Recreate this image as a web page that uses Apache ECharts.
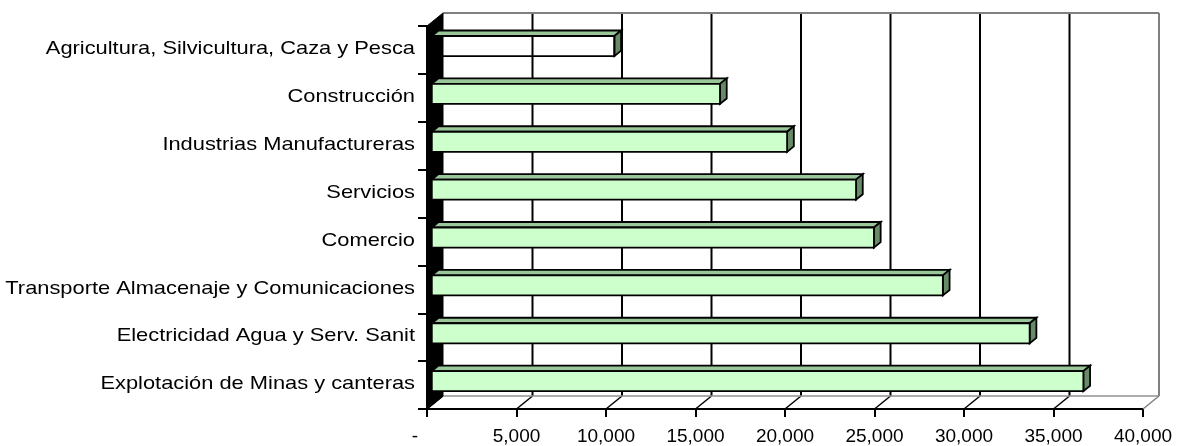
<!DOCTYPE html>
<html>
<head>
<meta charset="utf-8">
<script src="https://cdn.jsdelivr.net/npm/echarts@6/dist/echarts.min.js"></script>
<style>
  html, body { margin: 0; padding: 0; background: #ffffff; }
  #chart { width: 1178px; height: 446px; }
</style>
</head>
<body>
<div id="chart"></div>
<script>
// Sectors, listed from top to bottom
const categories = [
  'Agricultura, Silvicultura, Caza y Pesca',
  'Construcción',
  'Industrias Manufactureras',
  'Servicios',
  'Comercio',
  'Transporte Almacenaje y Comunicaciones',
  'Electricidad Agua y Serv. Sanit',
  'Explotación de Minas y canteras'
];
const values = [10200, 16100, 19850, 23700, 24700, 28550, 33400, 36400];
const tickValues = [0, 5000, 10000, 15000, 20000, 25000, 30000, 35000, 40000];
const tickLabels = ['-', '5,000', '10,000', '15,000', '20,000', '25,000', '30,000', '35,000', '40,000'];

// Oblique depth of the plot box (back wall offset from the front plane)
const DX = 16, DY = -13;
// Bars sit between these depth fractions
const F0 = 0.3, F1 = 0.72;
const BAR_RATIO = 0.42;
const FONT = 'Liberation Sans, Arial, sans-serif';
const TEXT_STRETCH = 1.15;
const hollowCategory = 0;

const chart = echarts.init(document.getElementById('chart'), null, { renderer: 'canvas' });

function line(x1, y1, x2, y2, color, w) {
  return { type: 'line', shape: { x1, y1, x2, y2 }, style: { stroke: color, lineWidth: w }, silent: true };
}

function renderFrame(params, api) {
  const h = api.size([0, 1])[1];
  const top = api.coord([0, 0])[1] - h / 2;
  const bottom = api.coord([0, categories.length - 1])[1] + h / 2;
  const x0 = api.coord([0, 0])[0];
  const xMax = api.coord([tickValues[tickValues.length - 1], 0])[0];
  const children = [];
  // back wall
  children.push({
    type: 'polygon',
    shape: { points: [[x0 + DX, top + DY], [xMax + DX, top + DY], [xMax + DX, bottom + DY], [x0 + DX, bottom + DY]] },
    style: { fill: '#ffffff' }, silent: true
  });
  // gridlines on the back wall and their floor traces
  tickValues.forEach(function (v, i) {
    if (i === 0 || i === tickValues.length - 1) return;
    const x = api.coord([v, 0])[0];
    children.push(line(x + DX, top + DY, x + DX, bottom + DY, '#000', 2));
    children.push(line(x, bottom, x + DX, bottom + DY, '#000', 1.5));
  });
  // floor diagonal at the origin
  children.push(line(x0, bottom, x0 + DX, bottom + DY, '#000', 1.5));
  // grey outline of the box
  children.push(line(x0 + DX, top + DY, xMax + DX, top + DY, '#808080', 2));
  children.push(line(xMax + DX, top + DY, xMax + DX, bottom + DY, '#808080', 2));
  children.push(line(x0 + DX, bottom + DY, xMax + DX, bottom + DY, '#909090', 1.5));
  children.push(line(xMax, bottom, xMax + DX, bottom + DY, '#808080', 1.5));
  // left side wall
  children.push({
    type: 'polygon',
    shape: { points: [[x0, top], [x0 + DX, top + DY], [x0 + DX, bottom + DY], [x0, bottom]] },
    style: { fill: '#000000', stroke: '#000000', lineWidth: 1 }, silent: true
  });
  return { type: 'group', children };
}

function renderBar(params, api) {
  const idx = api.value(0);
  const v = api.value(1);
  const c = api.coord([0, idx]);
  const e = api.coord([v, idx]);
  const h = api.size([0, 1])[1];
  const bh = h * BAR_RATIO;
  const fx = F0 * DX, fy = F0 * DY;
  const bx = (F1 - F0) * DX, by = (F1 - F0) * DY;
  const xl = c[0] + fx, xr = e[0] + fx;
  const yt = c[1] + fy - bh / 2, yb = yt + bh;
  const edge = { stroke: '#000000', lineWidth: 1.8, lineJoin: 'miter' };
  const children = [
    {
      type: 'polygon',
      shape: { points: [[xl, yt], [xr, yt], [xr + bx, yt + by], [xl + bx, yt + by]] },
      style: Object.assign({ fill: '#99C799' }, edge)
    },
    {
      type: 'polygon',
      shape: { points: [[xr, yt], [xr + bx, yt + by], [xr + bx, yb + by], [xr, yb]] },
      style: Object.assign({ fill: '#678A67' }, edge)
    },
    {
      type: 'rect',
      shape: { x: xl, y: yt, width: xr - xl, height: bh },
      style: Object.assign({ fill: idx === hollowCategory ? 'rgba(0,0,0,0)' : '#CCFFCC' }, edge)
    },
    {
      type: 'text',
      x: c[0] - 12,
      y: c[1] - 1,
      scaleX: TEXT_STRETCH,
      style: {
        text: categories[idx], x: 0, y: 0,
        align: 'right', verticalAlign: 'middle',
        font: '19px ' + FONT, fill: '#000000'
      }
    }
  ];
  return { type: 'group', children };
}

const option = {
  backgroundColor: '#ffffff',
  animation: false,
  grid: { left: 427, right: 35, top: 26, bottom: 37, containLabel: false, outerBoundsMode: 'none' },
  xAxis: {
    type: 'value',
    min: 0, max: 40000, interval: 5000,
    splitLine: { show: false },
    axisLine: { show: true, lineStyle: { color: '#000', width: 2 } },
    axisTick: { show: true, length: 8, lineStyle: { color: '#000', width: 2 } },
    axisLabel: {
      margin: 18,
      color: '#000',
      fontSize: 19,
      fontFamily: FONT,
      formatter: function (v) {
        const i = tickValues.indexOf(v);
        const t = i >= 0 ? tickLabels[i] : '';
        return i === 0 ? '{z|' + t + '}' : t;
      },
      rich: { z: { padding: [0, 24, 0, 0], fontSize: 19, fontFamily: FONT, color: '#000' } }
    }
  },
  yAxis: {
    type: 'category',
    inverse: true,
    data: categories,
    axisLine: { show: true, lineStyle: { color: '#000', width: 2 } },
    axisTick: { show: true, length: 9, lineStyle: { color: '#000', width: 2 } },
    axisLabel: { show: false },
    splitLine: { show: false }
  },
  series: [
    {
      type: 'custom',
      z: 1,
      clip: false,
      renderItem: renderFrame,
      data: [[0, 0]],
      encode: { x: 1, y: 0 },
      silent: true
    },
    {
      type: 'custom',
      z: 3,
      clip: false,
      renderItem: renderBar,
      data: values.map(function (v, i) { return [i, v]; }),
      encode: { x: 1, y: 0 }
    }
  ]
};

chart.setOption(option);
</script>
</body>
</html>
